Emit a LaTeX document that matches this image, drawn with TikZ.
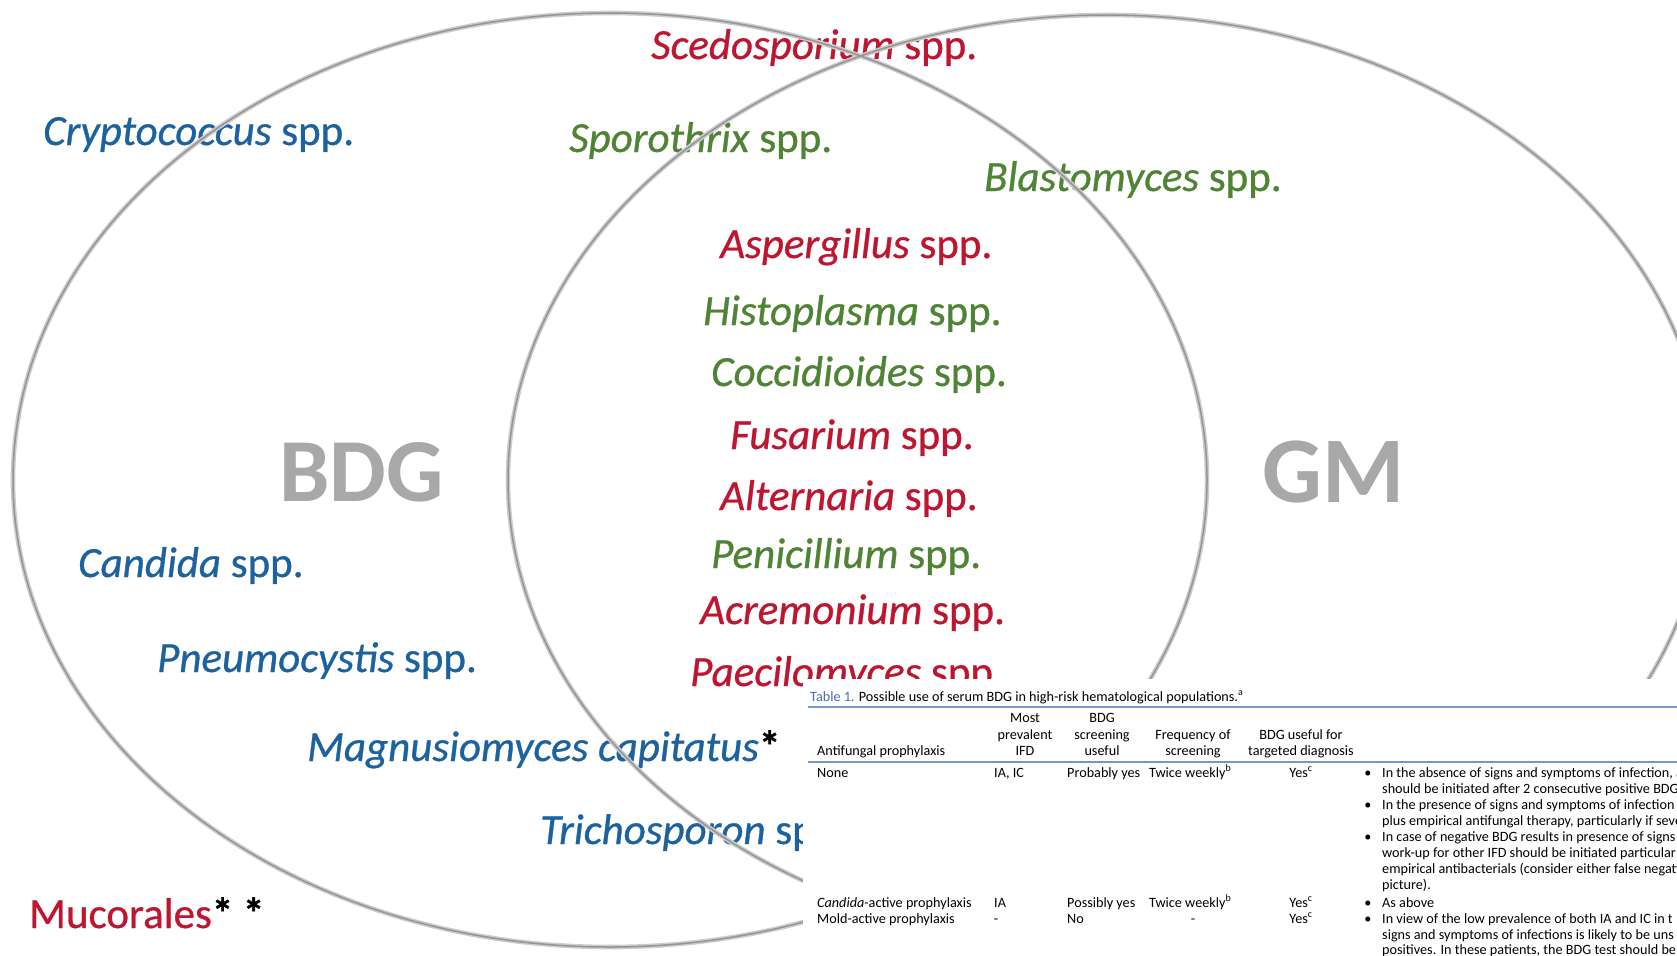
\documentclass[tikz,border=0pt]{standalone}
\usepackage{fontspec}
\setmainfont{Carlito}
\newfontfamily\lblfont{Carlito}[FakeBold=0.7, ItalicFeatures={FakeBold=0.7}]
\definecolor{sred}{RGB}{190,22,48}
\definecolor{sgreen}{RGB}{78,132,52}
\definecolor{sblue}{RGB}{28,98,158}
\definecolor{lblgray}{RGB}{168,168,168}
\definecolor{tblue}{RGB}{70,110,180}
\definecolor{rulebl}{RGB}{120,150,200}
\begin{document}
\begin{tikzpicture}[x=1pt,y=-1pt,
  lbl/.style={anchor=base west, inner sep=0pt, font=\lblfont\fontsize{43}{50}\selectfont},
  big/.style={anchor=base west, inner sep=0pt, text=lblgray, font=\fontsize{90}{100}\selectfont\bfseries},
  ringout/.style={line width=4.6pt, draw=black!20},
  ringin/.style={line width=1.5pt, draw=black!42},
  tb/.style={anchor=base west, inner sep=0pt, font=\fontsize{14.2}{16}\selectfont},
  tc/.style={anchor=base, inner sep=0pt, font=\fontsize{14.2}{16}\selectfont},
  bul/.style={anchor=base, inner sep=0pt, font=\fontsize{14.2}{16}\selectfont}]
\clip (0,0) rectangle (1677,955);
\fill[white] (0,0) rectangle (1677,955);

% species labels
\node[lbl, text=sred] (sced) at (651,59) {\textit{Scedosporium} spp.};
\node[lbl, text=sblue] (crypt) at (43,145) {\textit{Cryptococcus} spp.};
\node[lbl, text=sgreen] (sporo) at (569,152) {\textit{Sporothrix} spp.};
\node[lbl, text=sgreen] (blast) at (984,191) {\textit{Blastomyces} spp.};
\node[lbl, text=sred] (asp) at (720,258) {\textit{Aspergillus} spp.};
\node[lbl, text=sgreen] (histo) at (703,325) {\textit{Histoplasma} spp.};
\node[lbl, text=sgreen] (cocci) at (711,386) {\textit{Coccidioides} spp.};
\node[lbl, text=sred] (fusa) at (730,449) {\textit{Fusarium} spp.};
\node[lbl, text=sred] (alter) at (720,510) {\textit{Alternaria} spp.};
\node[lbl, text=sgreen] (peni) at (711,568) {\textit{Penicillium} spp.};
\node[lbl, text=sred] (acre) at (700,624) {\textit{Acremonium} spp.};
\node[lbl, text=sred] (paec) at (690,686) {\textit{Paecilomyces} spp.};
\node[lbl, text=sblue] (cand) at (78,577) {\textit{Candida} spp.};
\node[lbl, text=sblue] (pneu) at (157,672) {\textit{Pneumocystis} spp.};
\node[lbl, text=sblue] (magn) at (307,761) {\textit{Magnusiomyces capitatus}\textcolor{black}{\textbf{*}}};
\node[lbl, text=sblue] (trich) at (540,844) {\textit{Trichosporon} spp.};
\node[lbl, text=sred] (muco) at (29,928) {Mucorales\textcolor{black}{\textbf{*} \textbf{*}}};

\node[big] (bdg) at (279,501) {BDG};
\node[big, font=\fontsize{94}{100}\selectfont\bfseries] (gm) at (1262,502) {GM};

% rings
\draw[ringout] (610,480) ellipse [x radius=597, y radius=467];
\draw[ringout] (1107,480) ellipse [x radius=599, y radius=465];
\draw[ringin] (610,480) ellipse [x radius=597, y radius=467];
\draw[ringin] (1107,480) ellipse [x radius=599, y radius=465];

% table overlay
\fill[white] (803,679) rectangle (1677,955);
\node[tb] (title) at (810,701) {\textcolor{tblue}{Table 1.} Possible use of serum BDG in high-risk hematological populations.\textsuperscript{a}};
\coordinate (r1a) at (808,707);
\coordinate (r1b) at (1677,707);
\draw[rulebl, line width=1.8pt] (r1a) -- (r1b);
\coordinate (r2a) at (808,762);
\coordinate (r2b) at (1677,762);
\draw[rulebl, line width=1.2pt] (r2a) -- (r2b);

\node[tb] (h1) at (817,755) {Antifungal prophylaxis};
\node[tc] (h2a) at (1025,722) {Most};
\node[tc] (h2b) at (1025,739) {prevalent};
\node[tc] (h2c) at (1025,755) {IFD};
\node[tc] (h3a) at (1102,722) {BDG};
\node[tc] (h3b) at (1102,739) {screening};
\node[tc] (h3c) at (1102,755) {useful};
\node[tc] (h4a) at (1193,739) {Frequency of};
\node[tc] (h4b) at (1193,755) {screening};
\node[tc] (h5a) at (1301,739) {BDG useful for};
\node[tc] (h5b) at (1301,755) {targeted diagnosis};

\node[tb] (c1a) at (817,777) {None};
\node[tb] (c2a) at (994,777) {IA, IC};
\node[tb] (c3a) at (1067,777) {Probably yes};
\node[tb] (c4a) at (1149,777) {Twice weekly\textsuperscript{b}};
\node[tc] (c5a) at (1301,777) {Yes\textsuperscript{c}};

\node[tb] (c1b) at (817,907) {\textit{Candida}-active prophylaxis};
\node[tb] (c2b) at (994,907) {IA};
\node[tb] (c3b) at (1067,907) {Possibly yes};
\node[tb] (c4b) at (1149,907) {Twice weekly\textsuperscript{b}};
\node[tc] (c5b) at (1301,907) {Yes\textsuperscript{c}};

\node[tb] (c1c) at (817,923) {Mold-active prophylaxis};
\node[tc] (c2c) at (996,923) {-};
\node[tb] (c3c) at (1067,923) {No};
\node[tc] (c4c) at (1193,923) {-};
\node[tc] (c5c) at (1301,923) {Yes\textsuperscript{c}};

\node[bul] (b1) at (1368,777) {\textbullet};
\node[bul] (b2) at (1368,809) {\textbullet};
\node[bul] (b3) at (1368,841) {\textbullet};
\node[bul] (b4) at (1368,907) {\textbullet};
\node[bul] (b5) at (1368,923) {\textbullet};

\node[tb] (t1) at (1382,777) {In the absence of signs and symptoms of infection, a};
\node[tb] (t2) at (1382,793) {should be initiated after 2 consecutive positive BDG};
\node[tb] (t3) at (1382,809) {In the presence of signs and symptoms of infection};
\node[tb] (t4) at (1382,825) {plus empirical antifungal therapy, particularly if seve};
\node[tb] (t5) at (1382,841) {In case of negative BDG results in presence of signs};
\node[tb] (t6) at (1382,857) {work-up for other IFD should be initiated particular};
\node[tb] (t7) at (1382,873) {empirical antibacterials (consider either false negati};
\node[tb] (t8) at (1382,889) {picture).};
\node[tb] (t9) at (1382,907) {As above};
\node[tb] (t10) at (1382,923) {In view of the low prevalence of both IA and IC in t};
\node[tb] (t11) at (1382,939) {signs and symptoms of infections is likely to be uns};
\node[tb] (t12) at (1382,954) {positives. In these patients, the BDG test should be};
\end{tikzpicture}
\end{document}
